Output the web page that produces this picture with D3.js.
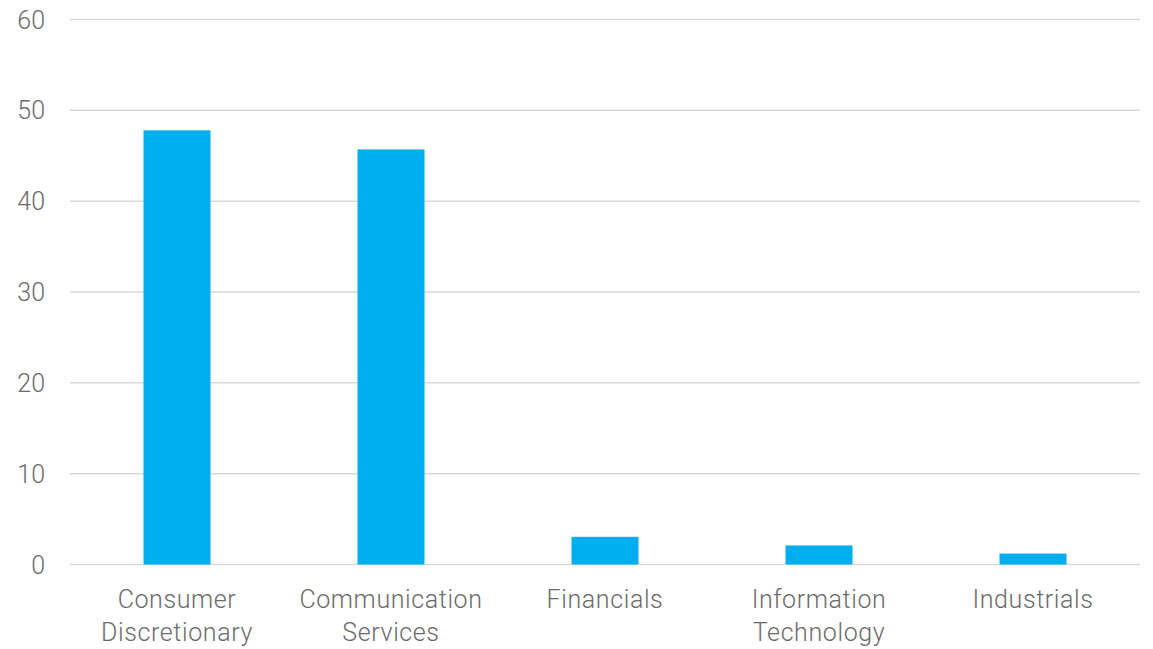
<!DOCTYPE html>
<html>
<head>
<meta charset="utf-8">
<script src="https://cdn.jsdelivr.net/npm/d3@7"></script>
<style>
  html, body { margin: 0; padding: 0; background: #ffffff; }
  svg text { font-family: Roboto, "Noto Sans", sans-serif; font-weight: 300; fill: #6b6b6b; }
</style>
</head>
<body>
<svg id="chart" width="1153" height="649"></svg>
<script>
// Sector weights (%)
const categories = [
  ["Consumer", "Discretionary"],
  ["Communication", "Services"],
  ["Financials"],
  ["Information", "Technology"],
  ["Industrials"]
];
const values = [47.8, 45.7, 3.05, 2.1, 1.2];
const yTicks = [0, 10, 20, 30, 40, 50, 60];

const svg = d3.select("#chart");
const plotLeft = 70, plotRight = 1140, plotTop = 19.5, plotBottom = 564.5;

const keys = categories.map(c => c.join(" "));
const x = d3.scaleBand()
  .domain(keys)
  .range([plotLeft, plotRight])
  .paddingInner(0.687)
  .paddingOuter(0.3435);

const y = d3.scaleLinear().domain([0, 60]).range([plotBottom, plotTop]);

// Horizontal gridlines
svg.append("g")
  .selectAll("line")
  .data(yTicks)
  .join("line")
  .attr("x1", plotLeft)
  .attr("x2", plotRight)
  .attr("y1", d => y(d))
  .attr("y2", d => y(d))
  .attr("stroke", "#d9d9d9")
  .attr("stroke-width", 1.5);

// Y axis labels
svg.append("g")
  .selectAll("text")
  .data(yTicks)
  .join("text")
  .attr("x", 45)
  .attr("y", d => y(d))
  .attr("dy", "0.36em")
  .attr("text-anchor", "end")
  .style("font-size", "25px")
  .text(d => d);

// Bars
svg.append("g")
  .selectAll("rect")
  .data(values)
  .join("rect")
  .attr("x", (d, i) => x(keys[i]))
  .attr("width", x.bandwidth())
  .attr("y", d => y(d))
  .attr("height", d => y(0) - y(d))
  .attr("fill", "#00aeef");

// Category labels
const lbl = svg.append("g")
  .selectAll("text")
  .data(categories)
  .join("text")
  .attr("text-anchor", "middle")
  .attr("x", (d, i) => x(keys[i]) + x.bandwidth() / 2)
  .attr("y", 608)
  .style("font-size", "25px")
  .style("letter-spacing", "0.6px");

lbl.selectAll("tspan")
  .data(d => d)
  .join("tspan")
  .attr("x", function () { return d3.select(this.parentNode).attr("x"); })
  .attr("dy", (d, i) => i === 0 ? 0 : 33)
  .text(d => d);
</script>
</body>
</html>
